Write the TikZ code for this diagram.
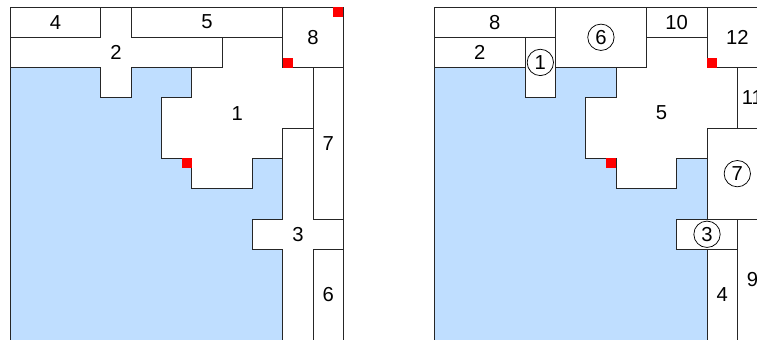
\documentclass[tikz,border=0pt]{standalone}
\usepackage{fontspec}
\setmainfont{Liberation Sans}
\definecolor{floodblue}{RGB}{191,222,255}

\begin{document}
\begin{tikzpicture}[
        % grid: one cell per unit, y runs downwards
        x=1cm, y=-1cm,
        % cell styles
        room/.style={draw=black!85, fill=white, line width=0.8pt},
        flooded/.style={draw=black!85, fill=floodblue, line width=0.8pt},
        marker/.style={fill=red},
        % labels
        tag/.style={font=\fontsize{19}{22}\selectfont, inner sep=0pt},
        ctag/.style={tag, circle, draw=black, line width=0.7pt, minimum size=0.87cm}
    ]

    \useasboundingbox (-0.33,-0.23) rectangle (24.65,10.96);
    \clip (-0.33,-0.23) rectangle (24.65,10.96);

    %% ---- Left plan ----
    \begin{scope}
        \draw[flooded] (0,0) rectangle (11,11);
        \draw[room] (0,0) rectangle (3,1);
        \draw[room] (4,0) rectangle (9,1);
        \draw[room] (9,0) rectangle (11,2);
        \draw[room] (0,1) -- (3,1) -- (3,0) -- (4,0) -- (4,1) -- (7,1) -- (7,2)
            -- (4,2) -- (4,3) -- (3,3) -- (3,2) -- (0,2) -- cycle;
        \draw[room] (5,3) -- (6,3) -- (6,2) -- (7,2) -- (7,1) -- (9,1) -- (9,2)
            -- (10,2) -- (10,4) -- (9,4) -- (9,5) -- (8,5) -- (8,6) -- (6,6)
            -- (6,5) -- (5,5) -- cycle;
        \draw[room] (10,2) rectangle (11,7);
        \draw[room] (9,4) -- (10,4) -- (10,7) -- (11,7) -- (11,8) -- (10,8)
            -- (10,11) -- (9,11) -- (9,8) -- (8,8) -- (8,7) -- (9,7) -- cycle;
        \draw[room] (10,8) rectangle (11,11);

        % red corner marks
        \fill[marker] (9,1.67) rectangle (9.33,2);
        \fill[marker] (10.67,0) rectangle (11,0.33);
        \fill[marker] (5.67,5) rectangle (6,5.33);

        \node[tag] (L4) at (1.5,0.5) {4};
        \node[tag] (L5) at (6.5,0.5) {5};
        \node[tag] (L2) at (3.5,1.5) {2};
        \node[tag] (L8) at (10,1) {8};
        \node[tag] (L1) at (7.5,3.5) {1};
        \node[tag] (L7) at (10.5,4.5) {7};
        \node[tag] (L3) at (9.5,7.5) {3};
        \node[tag] (L6) at (10.5,9.5) {6};
    \end{scope}

    %% ---- Right plan ----
    \begin{scope}[xshift=14cm]
        \draw[flooded] (0,0) rectangle (11,11);
        \draw[room] (0,0) rectangle (4,1);
        \draw[room] (0,1) rectangle (3,2);
        \draw[room] (3,1) rectangle (4,3);
        \draw[room] (4,0) rectangle (7,2);
        \draw[room] (7,0) rectangle (9,1);
        \draw[room] (9,0) rectangle (11,2);
        \draw[room] (5,3) -- (6,3) -- (6,2) -- (7,2) -- (7,1) -- (9,1) -- (9,2)
            -- (10,2) -- (10,4) -- (9,4) -- (9,5) -- (8,5) -- (8,6) -- (6,6)
            -- (6,5) -- (5,5) -- cycle;
        \draw[room] (10,2) rectangle (11,4);
        \draw[room] (9,4) rectangle (11,7);
        \draw[room] (8,7) rectangle (10,8);
        \draw[room] (9,8) rectangle (10,11);
        \draw[room] (10,7) rectangle (11,11);

        % red corner marks
        \fill[marker] (9,1.67) rectangle (9.33,2);
        \fill[marker] (10.67,0) rectangle (11,0.33);
        \fill[marker] (5.67,5) rectangle (6,5.33);

        \node[tag] (R8) at (2,0.5) {8};
        \node[tag] (R2) at (1.5,1.5) {2};
        \node[ctag] (R1) at (3.5,1.83) {1};
        \node[ctag] (R6) at (5.5,1) {6};
        \node[tag] (R10) at (8,0.5) {10};
        \node[tag] (R12) at (10,1) {12};
        \node[tag] (R11) at (10.5,3) {11};
        \node[tag] (R5) at (7.5,3.5) {5};
        \node[ctag] (R7) at (10,5.5) {7};
        \node[ctag] (R3) at (9,7.5) {3};
        \node[tag] (R4) at (9.5,9.5) {4};
        \node[tag] (R9) at (10.5,9) {9};
    \end{scope}

\end{tikzpicture}
\end{document}
